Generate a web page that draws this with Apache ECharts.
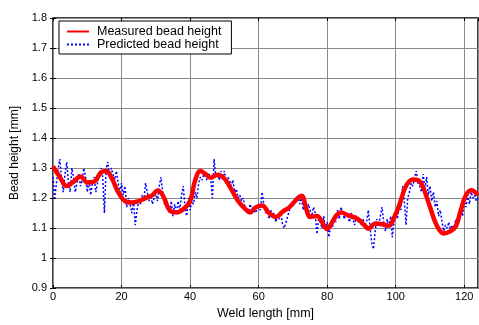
<!DOCTYPE html>
<html><head><meta charset="utf-8">
<script src="https://cdn.jsdelivr.net/npm/echarts@6/dist/echarts.min.js"></script>
<style>html,body{margin:0;padding:0;background:#fff}#c{width:479px;height:325px}</style>
</head><body><div id="c"></div>
<script>
var xTicks = [0, 20, 40, 60, 80, 100, 120];
var yTicks = [0.9, 1, 1.1, 1.2, 1.3, 1.4, 1.5, 1.6, 1.7, 1.8];
var seriesNames = ["Measured bead height", "Predicted bead height"];
// measured (smooth) curve: [weld length, height]
var measured = [[0,1.305],[2,1.27],[4,1.24],[6,1.255],[8,1.272],[10,1.252],[12,1.255],[14,1.285],[15.5,1.29],[17,1.27],[19,1.22],[21,1.19],[23,1.185],[25,1.19],[27,1.2],[29,1.21],[30.5,1.225],[32,1.21],[34,1.16],[36,1.152],[38,1.163],[40,1.19],[41.5,1.26],[43,1.29],[44.5,1.28],[46,1.268],[48,1.278],[50,1.265],[52,1.23],[54,1.19],[56,1.165],[57.5,1.152],[59,1.168],[61,1.175],[63,1.15],[65,1.137],[67,1.155],[69,1.17],[71,1.195],[72.5,1.208],[74,1.16],[75,1.137],[77,1.14],[78.5,1.12],[80,1.097],[81,1.11],[82.5,1.14],[84,1.152],[86,1.143],[89,1.13],[91,1.108],[92,1.098],[94,1.115],[96,1.113],[98,1.108],[99.5,1.135],[101,1.175],[103,1.24],[105,1.262],[106.5,1.26],[108,1.235],[110,1.17],[112,1.108],[114,1.082],[116,1.09],[117.5,1.105],[119,1.16],[120.5,1.21],[122,1.226],[124,1.21]];
// predicted values, one every 0.5 mm starting at 0
var predictedStep = 0.5;
var predicted = [
1.27,1.20,1.25,1.30,1.33,1.26,1.22,1.28,1.32,1.25,
1.22,1.30,1.27,1.22,1.25,1.28,1.24,1.26,1.30,1.27,
1.22,1.26,1.21,1.25,1.27,1.22,1.25,1.28,1.30,1.27,
1.15,1.30,1.32,1.27,1.30,1.28,1.26,1.29,1.25,1.22,
1.25,1.21,1.24,1.17,1.20,1.18,1.15,1.19,1.11,1.16,
1.19,1.18,1.21,1.19,1.25,1.22,1.19,1.21,1.18,1.20,
1.22,1.19,1.24,1.27,1.22,1.18,1.20,1.17,1.15,1.19,
1.14,1.18,1.15,1.19,1.16,1.21,1.24,1.17,1.14,1.20,
1.16,1.19,1.18,1.22,1.20,1.25,1.27,1.26,1.28,1.27,
1.26,1.28,1.27,1.20,1.33,1.27,1.28,1.26,1.29,1.27,
1.29,1.25,1.27,1.26,1.24,1.26,1.22,1.23,1.20,1.21,
1.19,1.20,1.17,1.16,1.15,1.18,1.16,1.17,1.15,1.16,
1.17,1.16,1.22,1.18,1.15,1.17,1.13,1.16,1.14,1.15,
1.12,1.14,1.13,1.15,1.11,1.10,1.12,1.14,1.16,1.18,
1.17,1.19,1.20,1.21,1.18,1.20,1.16,1.19,1.15,1.18,
1.16,1.14,1.17,1.15,1.08,1.13,1.12,1.10,1.14,1.09,
1.12,1.07,1.11,1.10,1.14,1.12,1.16,1.13,1.17,1.15,
1.13,1.15,1.14,1.12,1.15,1.13,1.11,1.14,1.12,1.13,
1.11,1.13,1.10,1.12,1.16,1.10,1.05,1.03,1.09,1.13,
1.11,1.14,1.17,1.12,1.09,1.13,1.10,1.14,1.07,1.12,
1.15,1.13,1.18,1.16,1.24,1.19,1.11,1.20,1.22,1.25,
1.24,1.27,1.29,1.25,1.24,1.22,1.28,1.23,1.27,1.21,
1.24,1.19,1.22,1.17,1.19,1.14,1.16,1.12,1.09,1.11,
1.10,1.12,1.09,1.11,1.10,1.13,1.12,1.15,1.17,1.14,
1.19,1.17,1.21,1.18,1.22,1.20,1.21,1.19,1.20];
var predictedPairs = predicted.map(function(v, i){ return [i * predictedStep, v]; });

var xMin = 0, xMax = 124, yMin = 0.9, yMax = 1.8;
var FONT = "'Liberation Sans', Arial, sans-serif";
var chart = echarts.init(document.getElementById('c'), null, {renderer: 'canvas'});
function xAx(pos, showLabel, grid) {
  return {type: 'value', position: pos, min: xMin, max: xMax, interval: 20,
    name: showLabel ? 'Weld length [mm]' : '', nameLocation: 'middle', nameGap: 15,
    nameTextStyle: {color: '#000', fontFamily: FONT, fontSize: 12.5},
    axisLine: {show: false}, axisTick: {show: true, inside: true, length: 3, lineStyle: {color: '#000'}},
    axisLabel: {show: showLabel, margin: 3, showMaxLabel: false, color: '#000', fontFamily: FONT, fontSize: 11,
      formatter: function(v){ return xTicks.indexOf(v) >= 0 ? String(v) : ''; }},
    splitLine: {show: grid, lineStyle: {color: '#8a8a8a', width: 1}}};
}
function yAx(pos, showLabel, grid) {
  return {type: 'value', position: pos, min: yMin, max: yMax, interval: 0.1,
    name: showLabel ? 'Bead height [mm]' : '', nameLocation: 'middle', nameGap: 29,
    nameTextStyle: {color: '#000', fontFamily: FONT, fontSize: 12},
    axisLine: {show: false}, axisTick: {show: true, inside: true, length: 3, lineStyle: {color: '#000'}},
    axisLabel: {show: showLabel, margin: 6, color: '#000', fontFamily: FONT, fontSize: 11,
      formatter: function(v){ var r = Math.round(v*10)/10; return yTicks.indexOf(r) >= 0 ? String(r) : ''; }},
    splitLine: {show: grid, lineStyle: {color: '#8a8a8a', width: 1}}};
}
chart.setOption({
  animation: false,
  backgroundColor: '#fff',
  grid: {left: 53, right: 1, top: 18, bottom: 31, show: true, borderColor: '#000', borderWidth: 1.5, backgroundColor: 'transparent'},
  xAxis: [xAx('bottom', true, true), xAx('top', false, false)],
  yAxis: [yAx('left', true, true), yAx('right', false, false)],
  legend: {
    orient: 'vertical', left: 59, top: 21,
    padding: [4, 10, 3, 7], itemGap: 0, itemWidth: 22, itemHeight: 10,
    backgroundColor: '#fff', borderColor: '#000', borderWidth: 1,
    itemStyle: {opacity: 0},
    textStyle: {color: '#000', fontFamily: FONT, fontSize: 12.5, lineHeight: 11, padding: [0,0,0,3]},
    data: seriesNames
  },
  series: [
    {name: seriesNames[1], type: 'line', data: predictedPairs, showSymbol: false, symbol: 'none',
     z: 2, color: '#0000ff', lineStyle: {color: '#0000ff', width: 1.5, type: [2, 2]}},
    {name: seriesNames[0], type: 'line', data: measured, showSymbol: false, symbol: 'none', smooth: 0.4,
     z: 3, color: '#ff0000', lineStyle: {color: '#ff0000', width: 4.5}}
  ]
});
</script></body></html>
